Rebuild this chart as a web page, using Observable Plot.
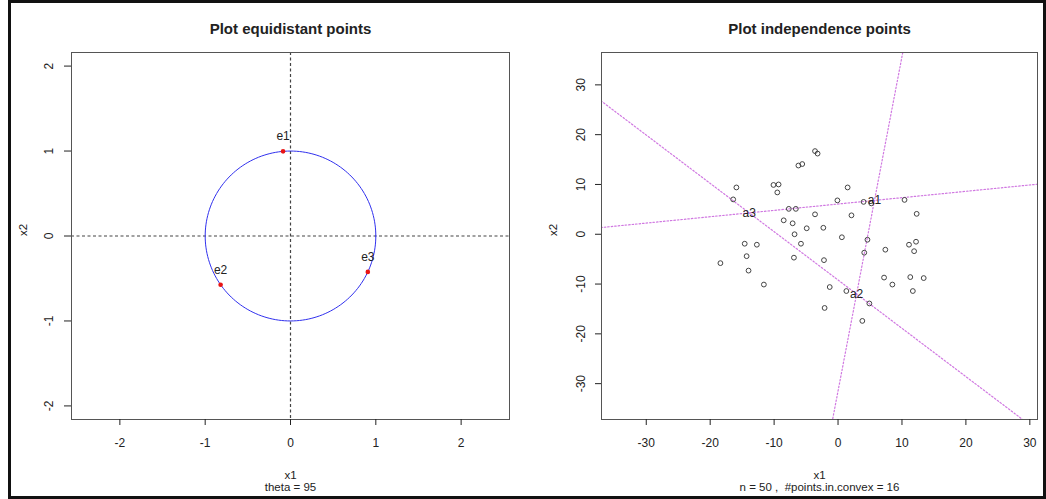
<!DOCTYPE html>
<html>
<head>
<meta charset="utf-8">
<script src="https://cdn.jsdelivr.net/npm/d3@7"></script>
<script src="https://cdn.jsdelivr.net/npm/@observablehq/plot@0.6"></script>
<style>
  body { margin: 0; background: #fff; }
  #wrap { position: relative; width: 1046px; height: 499px; overflow: hidden; background: #fff; }
  #left { position: absolute; left: 10px; top: 0; }
  #right { position: absolute; left: 520px; top: 0; }
  #border { position: absolute; left: 8px; top: 0; width: 1038px; height: 499px; box-sizing: border-box; border: 3px solid #111; pointer-events: none; }
</style>
</head>
<body>
<div id="wrap">
  <div id="left"></div>
  <div id="right"></div>
  <div id="border"></div>
</div>
<script>
// ---- Left panel: equidistant points on the unit circle ----
const theta = 95;
const equiLabels = ["e1", "e2", "e3"];
const equiAngles = [theta, theta + 120, theta + 240];
const circleRadius = 1;
const leftXDomain = [-2.567, 2.567];
const leftYDomain = [-2.16, 2.16];
const leftTicks = [-2, -1, 0, 1, 2];

// ---- Right panel: sample points and triangle vertices ----
const ptX = [-3.6, -3.2, -6.2, -5.6, -15.9, -10.1, -9.3, -9.5, 1.5, -16.4,
             -0.1, 4.0, 5.2, 10.4, -7.7, -6.6, 12.3, -3.6, 2.1, -8.5,
             -7.1, -4.9, -2.3, -6.8, 0.6, 4.6, 12.2, 11.1, -14.6, -12.7,
             -5.8, 7.4, 11.9, 4.1, -14.3, -6.9, -2.2, -18.4, -14.0, 7.2,
             11.3, 13.4, 8.5, -11.6, -1.3, 1.3, 11.7, 4.9, -2.1, 3.8];
const ptY = [16.7, 16.2, 13.8, 14.1, 9.4, 9.9, 10.0, 8.4, 9.4, 7.0,
             6.8, 6.5, 6.2, 6.9, 5.1, 5.1, 4.1, 4.0, 3.8, 2.8,
             2.2, 1.2, 1.3, 0.0, -0.6, -1.1, -1.5, -2.1, -1.9, -2.1,
             -1.9, -3.1, -3.4, -3.7, -4.4, -4.7, -5.2, -5.8, -7.3, -8.7,
             -8.6, -8.8, -10.1, -10.1, -10.6, -11.4, -11.4, -13.9, -14.8, -17.4];
const vertexLabels = ["a1", "a2", "a3"];
const vertexX = [5.7, 2.9, -13.9];
const vertexY = [6.8, -12.0, 4.3];
const pointsInConvex = 16;
const rightXDomain = [-37.0, 31.2];
const rightYDomain = [-37.2, 36.5];
const rightTicks = [-30, -20, -10, 0, 10, 20, 30];

const baseStyle = {
  fontFamily: "'Liberation Sans', Arial, Helvetica, sans-serif",
  fontSize: "12px",
  color: "#222",
  background: "transparent",
  overflow: "visible"
};
const rad = (a) => a * Math.PI / 180;
const plain = (d) => String(d); // ASCII hyphen for negatives

// unit circle outline
const circle = d3.range(0, 361, 2).map((a) => ({
  x: circleRadius * Math.cos(rad(a)),
  y: circleRadius * Math.sin(rad(a))
}));
const equi = equiAngles.map((a, i) => ({
  label: equiLabels[i],
  x: circleRadius * Math.cos(rad(a)),
  y: circleRadius * Math.sin(rad(a))
}));

const leftPlot = Plot.plot({
  width: 510,
  height: 499,
  marginLeft: 61,
  marginRight: 11,
  marginTop: 52,
  marginBottom: 80,
  style: baseStyle,
  x: {domain: leftXDomain, label: null},
  y: {domain: leftYDomain, label: null},
  marks: [
    Plot.ruleX([0], {stroke: "#444", strokeWidth: 1.2, strokeDasharray: "3,2.5"}),
    Plot.ruleY([0], {stroke: "#444", strokeWidth: 1.2, strokeDasharray: "3,2.5"}),
    Plot.line(circle, {x: "x", y: "y", stroke: "#3030ee", strokeWidth: 1}),
    Plot.dot(equi, {x: "x", y: "y", r: 2.3, fill: "#e81414", stroke: "none"}),
    Plot.text(equi, {x: "x", y: "y", text: "label", dy: -15, fontSize: 12, fill: "#222"}),
    Plot.frame({stroke: "#555"}),
    Plot.axisX({ticks: leftTicks, tickFormat: plain, tickSize: 6, tickPadding: 13, label: null}),
    Plot.axisY({ticks: leftTicks, tickFormat: plain, tickSize: 7, tickRotate: -90, tickPadding: 12, label: null}),
    Plot.text(["Plot equidistant points"], {frameAnchor: "top", dy: -29, fontWeight: "bold", fontSize: 15}),
    Plot.text(["x1"], {frameAnchor: "bottom", dy: 59, fontSize: 11.5}),
    Plot.text([`theta = ${theta}`], {frameAnchor: "bottom", dy: 71, fontSize: 11.5}),
    Plot.text(["x2"], {frameAnchor: "left", dx: -48, rotate: -90, fontSize: 11.5})
  ]
});
document.getElementById("left").append(leftPlot);

const points = ptX.map((x, i) => ({x, y: ptY[i]}));
const verts = vertexLabels.map((label, i) => ({label, x: vertexX[i], y: vertexY[i]}));
// each triangle side, extended well past the frame and clipped to it
const sidePairs = [[0, 1], [1, 2], [2, 0]];
const sides = sidePairs.flatMap(([i, j], k) => {
  const a = verts[i], b = verts[j];
  return [-60, 60].map((t) => ({side: k, x: a.x + t * (b.x - a.x), y: a.y + t * (b.y - a.y)}));
});

const rightPlot = Plot.plot({
  width: 526,
  height: 499,
  marginLeft: 81,
  marginRight: 9,
  marginTop: 52,
  marginBottom: 80,
  style: baseStyle,
  x: {domain: rightXDomain, label: null},
  y: {domain: rightYDomain, label: null},
  marks: [
    Plot.line(sides, {x: "x", y: "y", z: "side", stroke: "#c860dc", strokeOpacity: 0.85, strokeWidth: 1.2, strokeDasharray: "1.5,2", clip: true}),
    Plot.dot(points, {x: "x", y: "y", r: 2.4, stroke: "#444", strokeWidth: 1, fill: "none"}),
    Plot.text(verts, {x: "x", y: "y", text: "label", fontSize: 12, fill: "#222"}),
    Plot.frame({stroke: "#555"}),
    Plot.axisX({ticks: rightTicks, tickFormat: plain, tickSize: 6, tickPadding: 13, label: null}),
    Plot.axisY({ticks: rightTicks, tickFormat: plain, tickSize: 6, tickRotate: -90, tickPadding: 11, label: null}),
    Plot.text(["Plot independence points"], {frameAnchor: "top", dy: -29, fontWeight: "bold", fontSize: 15}),
    Plot.text(["x1"], {frameAnchor: "bottom", dy: 59, fontSize: 11.5}),
    Plot.text([`n = ${points.length} ,  #points.in.convex = ${pointsInConvex}`], {frameAnchor: "bottom", dy: 71, fontSize: 11.5}),
    Plot.text(["x2"], {frameAnchor: "left", dx: -48, rotate: -90, fontSize: 11.5})
  ]
});
document.getElementById("right").append(rightPlot);
</script>
</body>
</html>
